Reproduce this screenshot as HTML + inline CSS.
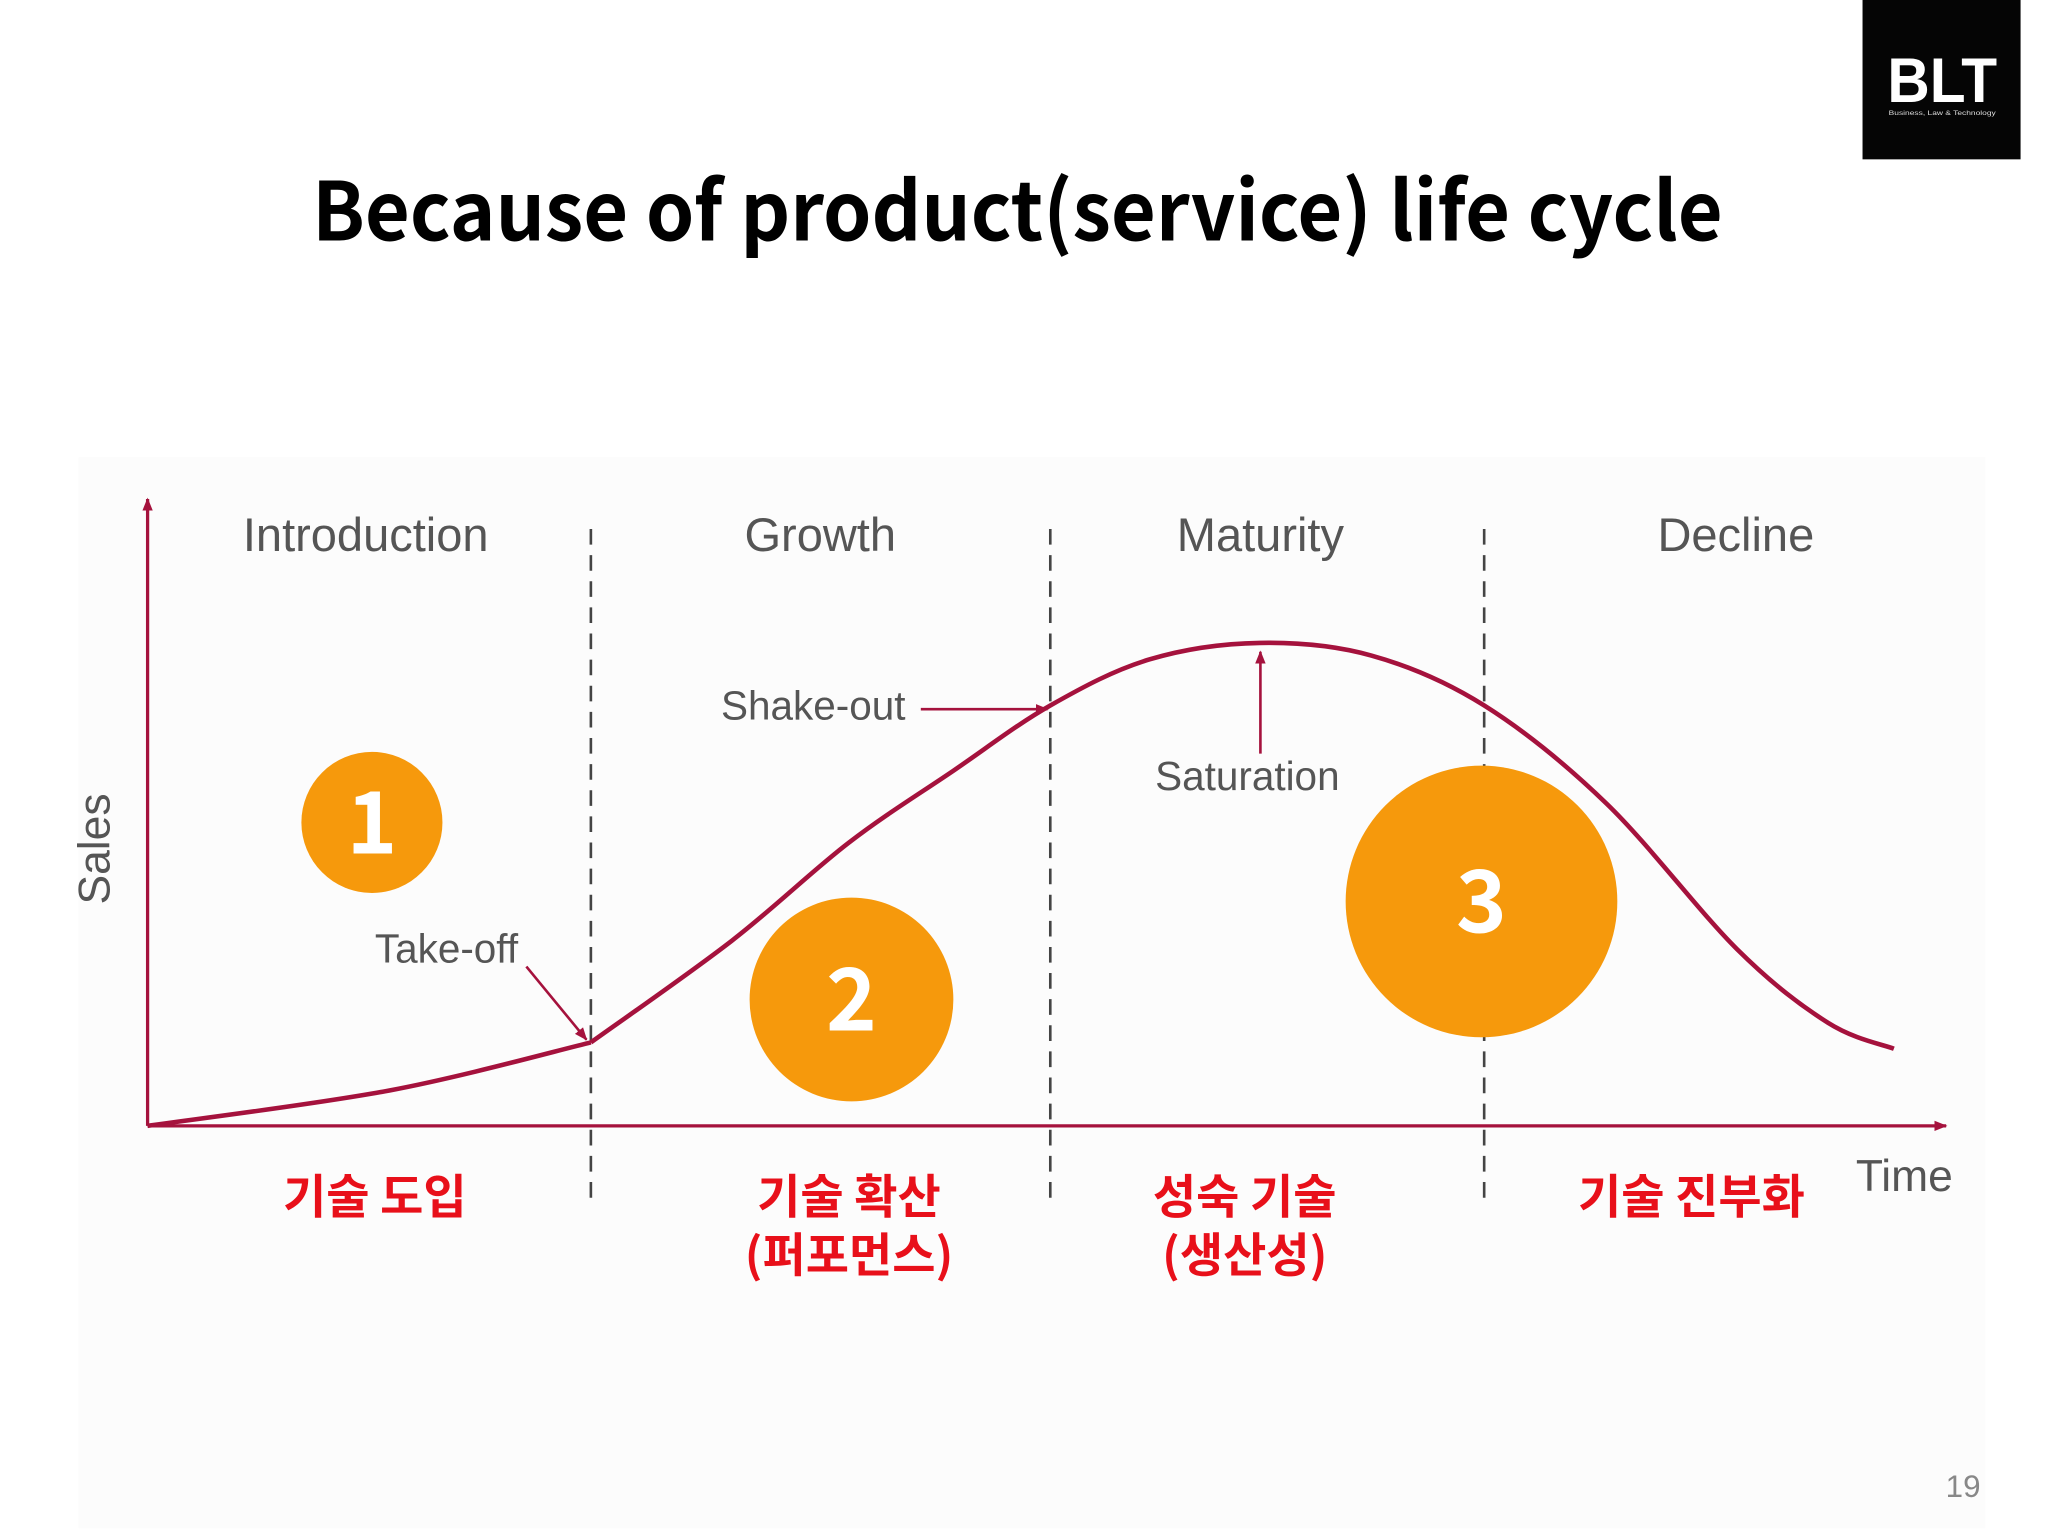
<!DOCTYPE html>
<html><head><meta charset="utf-8"><style>
html,body{margin:0;padding:0;background:#fff;}
svg{display:block;}
</style></head><body>
<svg width="2048" height="1536" viewBox="0 0 1568 1176" xmlns="http://www.w3.org/2000/svg" font-family="'Liberation Sans','Noto Sans CJK KR',sans-serif">
<defs>
<marker id="ah" markerWidth="10" markerHeight="10" refX="9" refY="5" orient="auto" markerUnits="userSpaceOnUse"><path d="M0,1 L10,5 L0,9 Z" fill="#a5123d"/></marker>
</defs>
<rect width="1568" height="1176" fill="#fff"/>
<rect x="60" y="350" width="1460" height="820" fill="#fcfcfc"/>
<g>
<rect x="1426" y="0" width="121" height="122" fill="#050505"/>
<text x="1487" y="78" text-anchor="middle" fill="#fff" font-weight="bold" font-size="48" textLength="84" lengthAdjust="spacingAndGlyphs">BLT</text>
<text x="1487" y="88" text-anchor="middle" fill="#ddd" font-size="5" textLength="82" lengthAdjust="spacingAndGlyphs">Business, Law &amp; Technology</text>
</g>
<text x="779" y="184" text-anchor="middle" font-family="'Noto Sans CJK KR',sans-serif" font-weight="bold" font-size="62" fill="#000" textLength="1080" lengthAdjust="spacingAndGlyphs">Because of product(service) life cycle</text>
<g id="chart"></g>
<text x="1503" y="1146" text-anchor="middle" font-size="24" fill="#888">19</text>
</svg>
<script>
const stageNames = ["Introduction","Growth","Maturity","Decline"];
const stageKorean = [["기술 도입"],["기술 확산","(퍼포먼스)"],["성숙 기술","(생산성)"],["기술 진부화"]];
const stageBounds = [0, 3.3, 6.72, 9.95, 13.3];
const introTime = [0, 1.8, 3.3];
const introSales = [0, 5.6, 13.2];
const timeVals = [3.3, 4.35, 5.22, 6.0, 6.72, 7.46, 8.28, 9.11, 9.95, 10.86, 11.83, 12.51, 13.0];
const salesVals = [13.2, 29.3, 44.8, 56.2, 66.5, 73.8, 76.4, 74.4, 66.5, 51, 28, 16.3, 12.2];
const circleNums = ["1","2","3"];
const circleTime = [1.67, 5.24, 9.93];
const circleSales = [48, 20, 35.5];
const circleR = [54, 78, 104];

const NS="http://www.w3.org/2000/svg";
const g=document.getElementById('chart');
const X0=113,X1=1450,Y0=862,Y1=378;
const xs=t=>X0+(t/13)*(X1-X0);
const ys=v=>Y0-(v/100)*(Y0-Y1);
const C="#a5123d";
function mk(tag,attrs,parent){const e=document.createElementNS(NS,tag);for(const k in attrs)e.setAttribute(k,attrs[k]);(parent||g).appendChild(e);return e;}
function smooth(T,V){
  const P=T.map((t,i)=>[xs(t),ys(V[i])]);
  let d=`M${P[0][0]},${P[0][1]}`;
  for(let i=0;i<P.length-1;i++){
    const p0=P[Math.max(0,i-1)],p1=P[i],p2=P[i+1],p3=P[Math.min(P.length-1,i+2)];
    d+=` C${p1[0]+(p2[0]-p0[0])/6},${p1[1]+(p2[1]-p0[1])/6} ${p2[0]-(p3[0]-p1[0])/6},${p2[1]-(p3[1]-p1[1])/6} ${p2[0]},${p2[1]}`;
  }
  return d;
}

let e=mk('line',{x1:X0,y1:Y0,x2:X0,y2:Y1+4,stroke:C,'stroke-width':2.5,'marker-end':'url(#ah)'});


e=mk('line',{x1:X0,y1:Y0,x2:1490,y2:Y0,stroke:C,'stroke-width':2.5,'marker-end':'url(#ah)'});


e=mk('text',{x:84,y:650,'text-anchor':'middle','font-size':34,fill:'#555',transform:'rotate(-90 84 650)'});e.textContent='Sales';


e=mk('text',{x:1458,y:912,'text-anchor':'middle','font-size':34,fill:'#555'});e.textContent='Time';



for(let i=1;i<stageBounds.length-1;i++){
  e=mk('line',{x1:xs(stageBounds[i]),y1:405,x2:xs(stageBounds[i]),y2:918,stroke:'#444','stroke-width':2,'stroke-dasharray':'12 8'});
  
  
}
for(let i=0;i<stageNames.length;i++){
  const cx=[280,628,965,1329][i];
  e=mk('text',{x:cx,y:422,'text-anchor':'middle','font-size':36,fill:'#555'});e.textContent=stageNames[i];
  
  
  const kx=[287,650,953,1295][i];
  stageKorean[i].forEach((t,j)=>{
    const k=mk('text',{x:kx,y:929+j*45,'text-anchor':'middle','font-size':36,'font-weight':'bold',fill:'#e8101a','font-family':"'Noto Sans CJK KR',sans-serif"});k.textContent=t;
    
    
  });
}
e=mk('path',{d:smooth(introTime,introSales),fill:'none',stroke:C,'stroke-width':3.5});


e=mk('path',{d:smooth(timeVals,salesVals),fill:'none',stroke:C,'stroke-width':3.5});



e=mk('text',{x:287,y:737,'font-size':31,fill:'#555'});e.textContent='Take-off';


e=mk('line',{x1:403,y1:740,x2:449,y2:796,stroke:C,'stroke-width':2,'marker-end':'url(#ah)'});


e=mk('text',{x:552,y:551,'font-size':31,fill:'#555'});e.textContent='Shake-out';


e=mk('line',{x1:705,y1:543,x2:802,y2:543,stroke:C,'stroke-width':2,'marker-end':'url(#ah)'});


e=mk('text',{x:955,y:605,'text-anchor':'middle','font-size':31,fill:'#555'});e.textContent='Saturation';


e=mk('line',{x1:965,y1:577,x2:965,y2:499,stroke:C,'stroke-width':2,'marker-end':'url(#ah)'});



for(let i=0;i<circleNums.length;i++){
  const cx=xs(circleTime[i]),cy=ys(circleSales[i]);
  e=mk('circle',{cx:cx,cy:cy,r:circleR[i],fill:'#f6990c'});
  
  
  const fs=66;
  e=mk('text',{x:cx,y:cy+fs*0.36,'text-anchor':'middle','font-size':fs,'font-weight':'bold',fill:'#fff','font-family':"'Noto Sans CJK KR',sans-serif"});e.textContent=circleNums[i];
  
  
}
</script>
</body></html>
